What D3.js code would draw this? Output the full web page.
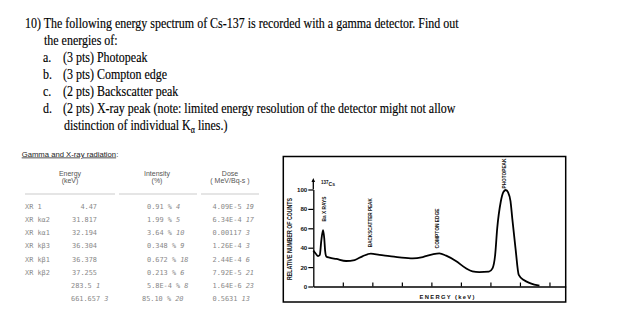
<!DOCTYPE html>
<html><head><meta charset="utf-8">
<script src="https://cdn.jsdelivr.net/npm/d3@7"></script>
<style>html,body{margin:0;padding:0;background:#fff;}svg{display:block;}</style>
</head><body>
<script>
// ---------- DATA ----------
const questionLead = "10)";
const questionLines = [
  "The following energy spectrum of Cs-137 is recorded with a gamma detector. Find out",
  "the energies of:"
];
const itemLetters = ["a.", "b.", "c.", "d."];
const itemTexts = [
  "(3 pts) Photopeak",
  "(3 pts) Compton edge",
  "(2 pts) Backscatter peak",
  "(2 pts) X-ray peak (note: limited energy resolution of the detector might not allow"
];
const lastLineParts = ["distinction of individual K", "α", " lines.)"];

const tableTitle = "Gamma and X-ray radiation";
const headers = [["Energy", "(keV)"], ["Intensity", "(%)"], ["Dose", "( MeV/Bq-s )"]];
const rowLabels = ["XR 1", "XR kα2", "XR kα1", "XR kβ3", "XR kβ1", "XR kβ2", "", ""];
const energyVals = ["4.47", "31.817", "32.194", "36.304", "36.378", "37.255", "283.5", "661.657"];
const energyUnc = ["", "", "", "", "", "", "1", "3"];
const intensityVals = ["0.91", "1.99", "3.64", "0.348", "0.672", "0.213", "5.8E-4", "85.10"];
const intensityUnc = ["4", "5", "10", "9", "18", "6", "8", "20"];
const doseVals = ["4.09E-5", "6.34E-4", "0.00117", "1.26E-4", "2.44E-4", "7.92E-5", "1.64E-6", "0.5631"];
const doseUnc = ["19", "17", "3", "3", "6", "21", "23", "13"];

// spectrum (energy keV, relative counts)
const specEnergy = [0, 8, 16, 22, 27, 33, 37, 40, 44, 55, 78, 111, 140, 168, 195, 224, 258, 292, 337, 371, 404, 427, 450, 483, 517, 539, 562, 595, 607, 616, 623, 635, 644, 652, 660, 668, 674, 685, 696, 713, 736, 766];
const specCounts = [37, 34, 31.4, 32.5, 47, 58.2, 50, 37, 31, 29.7, 28.4, 26.3, 27.3, 31.4, 33.8, 32.5, 31.4, 30.1, 29, 30.4, 33.2, 34.2, 31.8, 26.3, 18.8, 15.6, 14.8, 15.3, 18.7, 32.5, 60, 87.4, 97.5, 99.5, 97, 88, 70.3, 39.4, 11.9, 6.7, 3.3, 0.8];
const yTicks = [0, 20, 40, 60, 80, 100];
const xTicks = [100, 200, 300, 400, 500, 600, 700, 800];
const annotations = [
  {text: "Ba X RAYS", energy: 36, level: 67},
  {text: "BACKSCATTER PEAK", energy: 193, level: 40.5},
  {text: "COMPTON EDGE", energy: 418, level: 39.3},
  {text: "PHOTOPEAK", energy: 644, level: 101}
];
const xTitle = "ENERGY (keV)";
const yTitle = "RELATIVE NUMBER OF COUNTS";

// ---------- DRAW ----------
const W = 626, H = 323;
const svg = d3.select("body").append("svg").attr("width", W).attr("height", H);
svg.append("rect").attr("width", W).attr("height", H).attr("fill", "#fff");

// Question text
const serif = "'Liberation Serif','Times New Roman',serif";
const q = svg.append("g").attr("font-family", serif).attr("font-size", 15).attr("fill", "#000")
  .attr("stroke", "#000").attr("stroke-width", 0.15);
const probe = q.append("text").text(questionLead + " " + questionLines[0]);
const natural = probe.node().getComputedTextLength();
probe.remove();
const sx = 434 / natural;
const qg = q.append("g").attr("transform", `scale(${sx},1)`);
const lineY = i => 28.5 + i * 17;
qg.append("text").attr("x", 25 / sx).attr("y", lineY(0)).text(questionLead + " " + questionLines[0]);
qg.append("text").attr("x", 44 / sx).attr("y", lineY(1)).text(questionLines[1]);
itemLetters.forEach((l, i) => {
  qg.append("text").attr("x", 43 / sx).attr("y", lineY(2 + i)).text(l);
  qg.append("text").attr("x", 63 / sx).attr("y", lineY(2 + i)).text(itemTexts[i]);
});
const last = qg.append("text").attr("x", 64 / sx).attr("y", lineY(6));
last.append("tspan").text(lastLineParts[0]);
last.append("tspan").attr("font-size", 10).attr("dy", 3).text(lastLineParts[1]);
last.append("tspan").attr("dy", -3).text(lastLineParts[2]);

// Table
const sans = "'Liberation Sans',Arial,sans-serif";
const mono = "'DejaVu Sans Mono','Liberation Mono',monospace";
const t = svg.append("g");
const tt = t.append("text").attr("x", 21.7).attr("y", 156.5).attr("font-family", sans).attr("font-size", 7.7).attr("fill", "#222");
tt.append("tspan").attr("text-decoration", "underline").text(tableTitle);
tt.append("tspan").text(":");

const colCenters = [70, 157, 230];
const ruleSpans = [[25, 115], [119, 197], [201, 259]];
headers.forEach((h, i) => {
  h.forEach((s, j) => {
    t.append("text").attr("x", colCenters[i]).attr("y", 176 + j * 7).attr("text-anchor", "middle")
      .attr("font-family", sans).attr("font-size", 7).attr("fill", "#555").text(s);
  });
  t.append("line").attr("x1", ruleSpans[i][0]).attr("x2", ruleSpans[i][1]).attr("y1", 194).attr("y2", 194)
    .attr("stroke", "#ddd").attr("stroke-width", 1.6);
});
const rowY = d3.scalePoint().domain(d3.range(rowLabels.length)).range([209, 301]);
const cell = (x, y, anchor) => t.append("text").attr("x", x).attr("y", y).attr("text-anchor", anchor)
  .attr("font-family", mono).attr("font-size", 6.9).attr("fill", "#888");
rowLabels.forEach((lab, i) => {
  const y = rowY(i);
  cell(25, y, "start").text(lab);
  if (energyUnc[i] === "") {
    cell(97, y, "end").text(energyVals[i]);
  } else {
    const c = cell(71, y, "start");
    c.append("tspan").text(energyVals[i] + " ");
    c.append("tspan").attr("font-style", "italic").text(energyUnc[i]);
  }
  const ci = cell(i === rowLabels.length - 1 ? 142 : 147, y, "start");
  ci.append("tspan").text(intensityVals[i] + " % ");
  ci.append("tspan").attr("font-style", "italic").text(intensityUnc[i]);
  const cd = cell(212.5, y, "start");
  cd.append("tspan").text(doseVals[i] + " ");
  cd.append("tspan").attr("font-style", "italic").text(doseUnc[i]);
});

// Chart
const c = svg.append("g");
c.append("rect").attr("x", 283.3).attr("y", 156.5).attr("width", 282.4).attr("height", 145.5)
  .attr("fill", "none").attr("stroke", "#000").attr("stroke-width", 1.5);

const x = d3.scaleLinear().domain([0, 855]).range([313.3, 565.7]);
const y = d3.scaleLinear().domain([0, 100]).range([286.5, 189.5]);

const xAxis = c.append("g").attr("transform", `translate(0,${y(0)})`)
  .call(d3.axisTop(x).tickValues(xTicks).tickSize(4).tickSizeOuter(0).tickFormat(""));
xAxis.select(".domain").attr("stroke-width", 1.3);
xAxis.selectAll(".tick line").attr("stroke-width", 1.2);

const yAxis = c.append("g").attr("transform", `translate(${x(0)},0)`)
  .call(d3.axisLeft(y).tickValues(yTicks).tickSize(5).tickPadding(1).tickSizeOuter(0));
yAxis.select(".domain").attr("stroke-width", 1.3);
yAxis.selectAll(".tick line").attr("stroke-width", 1.2);
yAxis.selectAll(".tick text").attr("font-family", sans).attr("font-size", 6.2).attr("font-weight", "bold").attr("fill", "#111");
// axis extension and arrow
c.append("line").attr("x1", x(0)).attr("x2", x(0)).attr("y1", y(100)).attr("y2", 180.5)
  .attr("stroke", "#000").attr("stroke-width", 1.3);
c.append("path").attr("d", `M${x(0) - 1.8},${182} L${x(0)},${178} L${x(0) + 1.8},${182} Z`).attr("fill", "#000");

const line = d3.line().x((d, i) => x(specEnergy[i])).y(d => y(d)).curve(d3.curveMonotoneX);
c.append("path").attr("d", line(specCounts)).attr("fill", "none").attr("stroke", "#000")
  .attr("stroke-width", 1.8).attr("stroke-linejoin", "round");

// isotope label
const iso = c.append("text").attr("x", 321).attr("y", 186).attr("font-family", sans).attr("font-weight", "bold").attr("fill", "#111");
iso.append("tspan").attr("font-size", 4.5).attr("dy", -2).text("137");
iso.append("tspan").attr("font-size", 5).attr("dy", 2).text("Cs");

// annotations
const annLens = {"Ba X RAYS": 25, "BACKSCATTER PEAK": 49, "COMPTON EDGE": 40, "PHOTOPEAK": 30};
annotations.forEach(a => {
  c.append("text").attr("transform", `translate(${x(a.energy)},${y(a.level)}) rotate(-90)`)
    .attr("dy", "0.35em").attr("font-family", sans).attr("font-weight", "bold").attr("font-size", 6)
    .attr("fill", "#111").attr("textLength", annLens[a.text]).attr("lengthAdjust", "spacingAndGlyphs").text(a.text);
});

// axis titles
c.append("text").attr("transform", `translate(289.7,239) rotate(-90)`).attr("text-anchor", "middle")
  .attr("dy", "0.35em").attr("font-family", sans).attr("font-weight", "bold").attr("font-size", 6.3)
  .attr("fill", "#111").attr("textLength", 82).attr("lengthAdjust", "spacingAndGlyphs").text(yTitle);
c.append("text").attr("x", 419.5).attr("y", 296.7).attr("dy", "0.35em").attr("font-family", sans)
  .attr("font-weight", "bold").attr("font-size", 5.8).attr("fill", "#111")
  .attr("textLength", 55).attr("lengthAdjust", "spacing").text(xTitle);
</script>
</body></html>
